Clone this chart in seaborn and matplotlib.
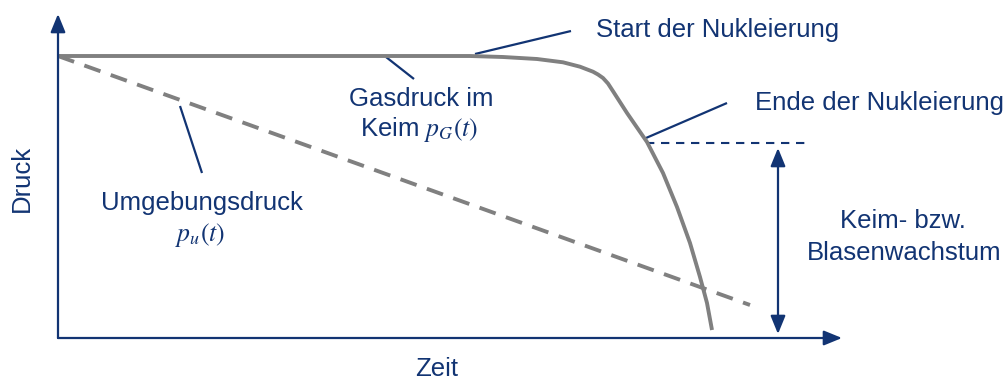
import numpy as np
import pandas as pd
import matplotlib
matplotlib.use("Agg")
import matplotlib.pyplot as plt
import seaborn as sns

# ---- data (schematic units: time t, pressure p) ----
gas_t = [0.0, 4.12, 4.45, 4.79, 5.05, 5.22, 5.35, 5.40, 5.45, 5.50, 5.55,
         5.69, 5.89, 6.05, 6.19, 6.32, 6.42, 6.49, 6.54]
gas_p = [2.82, 2.82, 2.81, 2.79, 2.757, 2.713, 2.663, 2.635, 2.60, 2.545, 2.468,
         2.25, 1.96, 1.65, 1.31, 0.95, 0.61, 0.35, 0.08]
amb_t = [0.0, 6.92]
amb_p = [2.82, 0.33]

t_max = 7.84          # x axis arrow tip
p_max = 3.24          # y axis arrow tip
nuc_end_t = 5.88
nuc_end_p = 1.95
ref_line_end_t = 7.48
growth_t = 7.20
growth_p_top = 1.90
growth_p_bottom = 0.04

sns.set_style("white")
plt.rcParams['font.family'] = ['Liberation Sans', 'DejaVu Sans']
plt.rcParams['mathtext.fontset'] = 'stix'

BLUE = "#123473"
GRAY = "#808080"
FS = 18.5

fig = plt.figure(figsize=(10.06, 3.81), dpi=100)
ax = fig.add_axes([0, 0, 1, 1])
ax.set_xlim(-0.58, 9.48)
ax.set_ylim(-0.43, 3.38)
ax.axis("off")

gas = pd.DataFrame({"t": gas_t, "p": gas_p})
amb = pd.DataFrame({"t": amb_t, "p": amb_p})
sns.lineplot(data=gas, x="t", y="p", ax=ax, color=GRAY, lw=2.8, sort=False,
             estimator=None, solid_capstyle="butt", solid_joinstyle="round",
             zorder=3)
sns.lineplot(data=amb, x="t", y="p", ax=ax, color=GRAY, lw=2.8, sort=False,
             estimator=None, zorder=3)
ax.lines[-1].set_dashes([4.4, 2.8])
ax.lines[-1].set_dash_capstyle("butt")

# axes with arrows
arrow_kw = dict(arrowstyle="-|>,head_length=1.1,head_width=0.45", color=BLUE,
                lw=1.6, shrinkA=0, shrinkB=0)
ax.annotate("", xy=(0, p_max), xytext=(0, 0), arrowprops=arrow_kw)
ax.annotate("", xy=(t_max, 0), xytext=(0, 0), arrowprops=arrow_kw)

# nucleation end reference line and growth arrow
ax.plot([nuc_end_t, ref_line_end_t], [nuc_end_p, nuc_end_p], color=BLUE, lw=1.5,
        dashes=[4, 3.2])
ax.annotate("", xy=(growth_t, growth_p_top), xytext=(growth_t, growth_p_bottom),
            arrowprops=dict(arrowstyle="<|-|>,head_length=1.1,head_width=0.45",
                            color=BLUE, lw=1.6, shrinkA=0, shrinkB=0))

# leader lines
leaders = [((4.17, 2.84), (5.13, 3.07)),
           ((3.28, 2.81), (3.56, 2.59)),
           ((1.22, 2.32), (1.44, 1.65)),
           ((5.88, 2.00), (6.69, 2.35))]
for (x0, y0), (x1, y1) in leaders:
    ax.plot([x0, x1], [y0, y1], color=BLUE, lw=1.6, solid_capstyle="butt")

txt = dict(color=BLUE, fontsize=FS)
ax.text(5.38, 3.08, "Start der Nukleierung", ha="left", va="center", **txt)
ax.text(3.63, 2.39, "Gasdruck im", ha="center", va="center", **txt)
ax.text(3.61, 2.08, r"Keim $p_G(t)$", ha="center", va="center", **txt)
ax.text(1.44, 1.35, "Umgebungsdruck", ha="center", va="center", **txt)
ax.text(1.42, 1.03, r"$p_u(t)$", ha="center", va="center", **txt)
ax.text(6.97, 2.35, "Ende der Nukleierung", ha="left", va="center", **txt)
ax.text(8.45, 1.17, "Keim- bzw.", ha="center", va="center", **txt)
ax.text(8.46, 0.85, "Blasenwachstum", ha="center", va="center", **txt)
ax.text(3.79, -0.31, "Zeit", ha="center", va="center", **txt)
ax.text(-0.36, 1.60, "Druck", ha="center", va="center", rotation=90, **txt)

fig.savefig("out.png", dpi=100)
